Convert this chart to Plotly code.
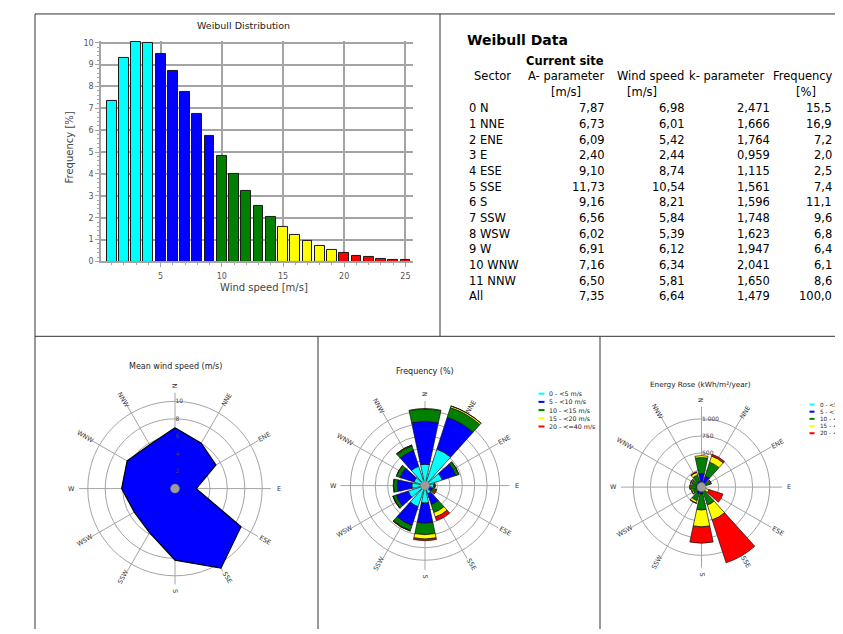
import math
import plotly.graph_objects as go

# page offset (browser body margin) and figure size
OX, OY = 8, 8
FW, FH = 835, 626

# ---------------- data ----------------
speed_bins = list(range(1, 26))
weibull_freq = [7.35, 9.30, 10.05, 10.00, 9.50, 8.70, 7.75, 6.75, 5.72, 4.82,
                3.98, 3.22, 2.55, 2.05, 1.58, 1.22, 0.95, 0.72, 0.52, 0.38,
                0.25, 0.22, 0.13, 0.08, 0.07]

sectors = ["N", "NNE", "ENE", "E", "ESE", "SSE", "S", "SSW", "WSW", "W", "WNW", "NNW"]
sector_angle = [0, 30, 60, 90, 120, 150, 180, 210, 240, 270, 300, 330]
a_param = [7.87, 6.73, 6.09, 2.40, 9.10, 11.73, 9.16, 6.56, 6.02, 6.91, 7.16, 6.50]
wind_speed = [6.98, 6.01, 5.42, 2.44, 8.74, 10.54, 8.21, 5.84, 5.39, 6.12, 6.34, 5.81]
k_param = [2.471, 1.666, 1.764, 0.959, 1.115, 1.561, 1.596, 1.748, 1.623, 1.947, 2.041, 1.650]
frequency = [15.5, 16.9, 7.2, 2.0, 2.5, 7.4, 11.1, 9.6, 6.8, 6.4, 6.1, 8.6]
all_a, all_ws, all_k, all_freq = 7.35, 6.64, 1.479, 100.0

speed_classes = ["0 - &lt;5 m/s", "5 - &lt;10 m/s", "10 - &lt;15 m/s",
                 "15 - &lt;20 m/s", "20 - &lt;=40 m/s"]
class_colors = ["#00ffff", "#0000ff", "#008000", "#ffff00", "#ff0000"]

# frequency (%) per sector, per speed class
freq_by_class = [
    [4.31, 7.71, 3.65, 1.74, 1.00, 1.72, 3.51, 4.45, 3.56, 2.64, 2.33, 4.10],
    [8.65, 6.74, 2.90, 0.23, 0.67, 2.29, 4.07, 3.97, 2.55, 2.94, 2.93, 3.37],
    [2.43, 2.06, 0.60, 0.03, 0.39, 1.69, 2.28, 1.05, 0.61, 0.75, 0.78, 0.96],
    [0.11, 0.34, 0.05, 0.01, 0.21, 0.96, 0.89, 0.13, 0.08, 0.07, 0.06, 0.15],
    [0.00, 0.04, 0.00, 0.00, 0.23, 0.74, 0.34, 0.01, 0.01, 0.00, 0.00, 0.01],
]
# energy (kWh/m2/year) per sector, per speed class
energy_by_class = [
    [9, 17, 8, 4, 2, 4, 8, 10, 8, 6, 5, 9],
    [190, 156, 67, 5, 16, 53, 94, 92, 59, 68, 68, 78],
    [235, 211, 61, 3, 40, 220, 233, 107, 63, 77, 79, 98],
    [28, 95, 14, 1, 59, 230, 248, 36, 22, 19, 18, 41],
    [0, 26, 2, 1, 215, 660, 240, 6, 4, 2, 1, 10],
]

# ---------------- helpers ----------------
def px(x):
    return (x - OX) / FW


def py(y):
    return 1 - (y - OY) / FH


def dom(cx, cy, R):
    return dict(x=[px(cx - R), px(cx + R)], y=[py(cy + R), py(cy - R)])


FONT = "DejaVu Sans"
GRID = "#a4a4a4"
annotations = []
shapes = []


def text(x, y, s, size=11.5, color="#000", xanchor="center", bold=False, angle=0):
    if bold:
        s = "<b>" + s + "</b>"
    annotations.append(dict(x=px(x), y=py(y), xref="paper", yref="paper", text=s,
                            showarrow=False, xanchor=xanchor, yanchor="middle",
                            textangle=angle,
                            font=dict(family=FONT, size=size, color=color)))


fig = go.Figure()

# ---------------- histogram ----------------
bar_colors = [class_colors[min(v // 5, 4)] for v in speed_bins]
fig.add_trace(go.Bar(x=speed_bins, y=weibull_freq, width=0.8,
                     marker=dict(color=bar_colors, line=dict(color="#1a1a1a", width=1)),
                     showlegend=False, xaxis="x", yaxis="y"))

# ---------------- polar charts ----------------
POL = [
    dict(name="polar", cx=175, cy=492, R=97, rmax=11, ticks=[2, 4, 6, 8, 10],
         labels=["2", "4", "6", "8", "10"]),
    dict(name="polar2", cx=425, cy=489, R=85.5, rmax=17, ticks=[2.5, 5, 7.5, 10, 12.5, 15],
         labels=None),
    dict(name="polar3", cx=701.5, cy=490.5, R=81.4, rmax=1180, ticks=[250, 500, 750, 1000],
         labels=["", "500", "750", "1.000"]),
]

# mean wind speed polygon
fig.add_trace(go.Scatterpolar(r=wind_speed + wind_speed[:1], theta=sector_angle + sector_angle[:1],
                              mode="lines", fill="toself", fillcolor="#0000ff",
                              line=dict(color="#000", width=1.2), showlegend=False,
                              subplot="polar"))

for k in range(5):
    fig.add_trace(go.Barpolar(r=freq_by_class[k], theta=sector_angle, width=24,
                              marker=dict(color=class_colors[k], line=dict(color="#111", width=0.7)),
                              showlegend=False, subplot="polar2"))
    fig.add_trace(go.Barpolar(r=energy_by_class[k], theta=sector_angle, width=24,
                              marker=dict(color=class_colors[k], line=dict(color="#111", width=0.7)),
                              showlegend=False, subplot="polar3"))

for p in POL:
    fig.add_trace(go.Scatterpolar(r=[0], theta=[0], mode="markers",
                                  marker=dict(size=9, color="#9c9c9c", line=dict(color="#808080", width=0.5)),
                                  showlegend=False, subplot=p["name"]))

layout_polars = {}
for p in POL:
    ra = dict(range=[0, p["rmax"]], tickvals=p["ticks"], showline=False, ticks="",
              gridcolor=GRID, gridwidth=1.3, angle=90, tickangle=90, side="clockwise",
              tickfont=dict(family=FONT, size=6, color="#444"), layer="above traces")
    if p["labels"] is None:
        ra["showticklabels"] = False
    else:
        ra["ticktext"] = p["labels"]
    layout_polars[p["name"]] = dict(
        domain=dom(p["cx"], p["cy"], p["R"]), bgcolor="white",
        radialaxis=ra,
        angularaxis=dict(rotation=90, direction="clockwise", tickmode="array",
                         tickvals=sector_angle, showticklabels=False, ticks="",
                         showline=False, gridcolor=GRID, gridwidth=1.3,
                         layer="above traces"),
    )
    # rotated direction labels
    for name, th in zip(sectors, sector_angle):
        rad = math.radians(th)
        rl = p["R"] + 6.5
        ang = th - 90
        if ang > 90:
            ang -= 180
        text(p["cx"] + rl * math.sin(rad), p["cy"] - rl * math.cos(rad), name,
             size=6.5, color="#333", angle=ang)

# polar titles
text(175, 369, "Mean wind speed (m/s)", size=8, color="#222")
text(425, 374, "Frequency (%)", size=8, color="#222")
text(700, 387, "Energy Rose (kWh/m²/year)", size=7.3, color="#222")

# legends (manual, compact)
for i, (lab, col) in enumerate(zip(speed_classes, class_colors)):
    y1 = 396 + i * 8.3
    shapes.append(dict(type="line", xref="paper", yref="paper", x0=px(538.5), x1=px(544.5),
                       y0=py(y1), y1=py(y1), line=dict(color=col, width=2)))
    text(547, y1, lab, size=6.3, color="#222", xanchor="left")
    y2 = 407 + i * 7.25
    shapes.append(dict(type="line", xref="paper", yref="paper", x0=px(809.5), x1=px(814.5),
                       y0=py(y2), y1=py(y2), line=dict(color=col, width=2)))
    text(817.5, y2, lab, size=5.7, color="#222", xanchor="left")

# ---------------- histogram texts ----------------
text(243, 23.5, "Weibull Distribution", size=9.5, color="#222")
text(69, 147, "Frequency [%]", size=10, color="#444", angle=-90)
text(264, 288.5, "Wind speed [m/s]", size=10, color="#444")

# ---------------- table ----------------
text(465, 38, "Weibull Data", size=14, xanchor="left", bold=True)
text(524, 60, "Current site", size=11.5, xanchor="left", bold=True)
text(492, 75, "Sector")
text(566, 75, "A- parameter")
text(566, 91, "[m/s]")
text(650, 75, "Wind speed")
text(642, 91, "[m/s]")
text(726, 75, "k- parameter")
text(803, 75, "Frequency")
text(806, 91, "[%]")


def c(v, d):
    return f"{v:.{d}f}".replace(".", ",")


row_names = [f"{i} {s}" for i, s in enumerate(sectors)] + ["All"]
col_a = a_param + [all_a]
col_ws = wind_speed + [all_ws]
col_k = k_param + [all_k]
col_f = frequency + [all_freq]
for i in range(len(row_names)):
    y = 107.5 + i * 15.85
    text(467, y, row_names[i], xanchor="left")
    text(606.5, y, c(col_a[i], 2), xanchor="right")
    text(686.5, y, c(col_ws[i], 2), xanchor="right")
    text(772, y, c(col_k[i], 3), xanchor="right")
    text(833.5, y, c(col_f[i], 1), xanchor="right")

# ---------------- borders ----------------
for (x0, y0, x1, y1) in [(35, 12, 843, 12), (35, 12, 35, 634), (440, 12, 440, 338),
                         (35, 338, 843, 338), (318, 338, 318, 634), (600, 338, 600, 634)]:
    shapes.append(dict(type="line", xref="paper", yref="paper", x0=px(x0), x1=px(x1),
                       y0=py(y0), y1=py(y1), line=dict(color="#333", width=1)))

fig.update_layout(
    width=FW, height=FH, margin=dict(l=0, r=0, t=0, b=0),
    paper_bgcolor="white", plot_bgcolor="white", showlegend=False,
    bargap=0,
    xaxis=dict(domain=[px(101), px(413)], range=[0.13, 25.62], tickvals=[5, 10, 15, 20, 25],
               showgrid=True, gridcolor=GRID, gridwidth=1.6, zeroline=False,
               showline=True, linecolor=GRID, linewidth=1.6,
               ticks="outside", ticklen=4, tickcolor=GRID, ticklabelstandoff=2,
               minor=dict(dtick=1, ticks="outside", ticklen=2, tickcolor=GRID, showgrid=False),
               tickfont=dict(family=FONT, size=8, color="#555"), anchor="y"),
    yaxis=dict(domain=[py(262.3), py(39.3)], range=[0, 10.08], dtick=1,
               showgrid=True, gridcolor=GRID, gridwidth=1.6, zeroline=False,
               showline=True, linecolor=GRID, linewidth=1.6,
               ticks="outside", ticklen=4, tickcolor=GRID,
               minor=dict(dtick=0.2, ticks="outside", ticklen=2, tickcolor=GRID, showgrid=False),
               tickfont=dict(family=FONT, size=8, color="#555"), anchor="x"),
    annotations=annotations, shapes=shapes,
    **layout_polars,
)

fig.write_html("out.html")
